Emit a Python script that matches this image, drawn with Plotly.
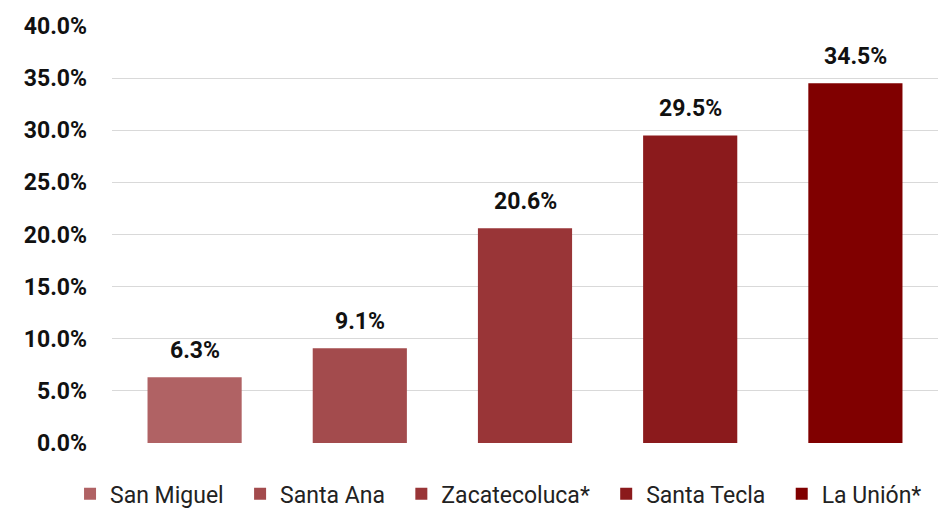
import plotly.graph_objects as go

categories = ["San Miguel", "Santa Ana", "Zacatecoluca*", "Santa Tecla", "La Unión*"]
values = [6.3, 9.1, 20.6, 29.5, 34.5]
colors = ["#B06264", "#A34B4D", "#993537", "#8B1A1C", "#800000"]
y_ticks = [0, 5, 10, 15, 20, 25, 30, 35, 40]

FONT = "Roboto, sans-serif"
PAD = "\u00a0\u00a0"

fig = go.Figure()
for cat, val, col in zip(categories, values, colors):
    fig.add_trace(go.Bar(
        x=[cat], y=[val], name=cat + PAD,
        marker=dict(color=col, line=dict(width=0)),
        width=0.57,
        cliponaxis=False,
    ))
    fig.add_annotation(
        x=cat, y=val, text=f"{val:.1f}%", showarrow=False,
        xanchor="center", yanchor="bottom", yshift=11,
        font=dict(family=FONT, size=23, color="#111111", weight="bold"),
    )

fig.update_layout(
    width=938, height=509,
    margin=dict(l=112, r=0, t=26, b=66, autoexpand=False),
    plot_bgcolor="white", paper_bgcolor="white",
    barmode="overlay",
    showlegend=True,
    legend=dict(orientation="h", x=-0.0508, xanchor="left",
                y=-0.122, yanchor="middle",
                font=dict(family=FONT, size=23, color="#222222"),
                itemwidth=30, traceorder="normal", itemclick=False),
    xaxis=dict(showticklabels=False, showgrid=False, zeroline=False, showline=False,
               categoryorder="array", categoryarray=categories, range=[-0.5, 4.5]),
    yaxis=dict(range=[0, 40], tickvals=y_ticks, ticktext=[f"{v:.1f}%" for v in y_ticks],
               showgrid=True, gridcolor="#D9D9D9", gridwidth=1, zeroline=False,
               showline=False, ticks="", ticklabelstandoff=24,
               tickfont=dict(family=FONT, size=23, color="#111111", weight="bold")),
)

fig.write_html("out.html", post_script="document.body.style.margin='0';",
               config={"displayModeBar": False})
